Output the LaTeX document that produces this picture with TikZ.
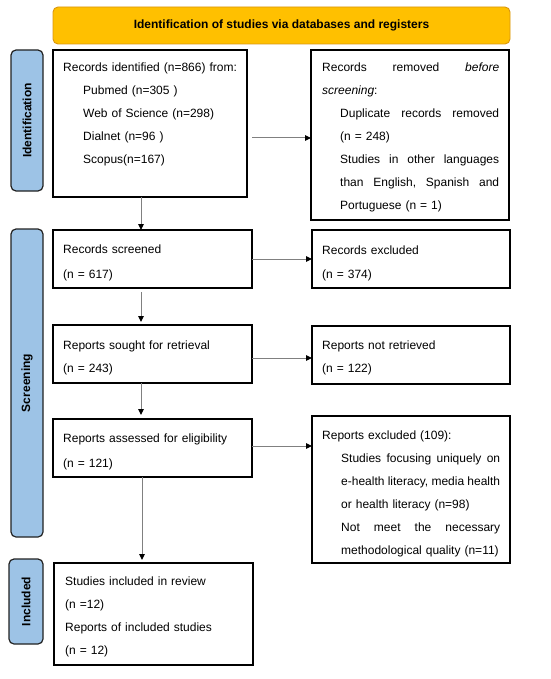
\documentclass[tikz,border=0pt]{standalone}
\usepackage{fontspec}
\setmainfont{Liberation Sans}
\usetikzlibrary{arrows.meta,calc}
\definecolor{hdrfill}{HTML}{FFC000}
\definecolor{hdrdraw}{HTML}{D9960F}
\definecolor{barfill}{HTML}{9DC3E6}
\definecolor{bardraw}{HTML}{222222}
\definecolor{arrgray}{HTML}{808080}
\newcommand{\jl}[2]{\hbox to #1{#2}}
\tikzset{
  box/.style={draw=black, line width=1.1pt, fill=white, anchor=north west, inner sep=0pt, outer sep=0pt},
  hdrbox/.style={draw=hdrdraw, fill=hdrfill, line width=0.9pt, rounded corners=5pt, anchor=north west, inner sep=0pt, outer sep=0pt},
  sidebar/.style={draw=bardraw, fill=barfill, line width=1.2pt, rounded corners=5pt, anchor=north west, inner sep=0pt, outer sep=0pt},
  txt/.style={anchor=base west, inner sep=0pt, align=left, font=\fontsize{12}{23}\selectfont},
  sidelabel/.style={rotate=90, font=\fontsize{12}{14}\selectfont\bfseries, inner sep=0pt},
  arr/.style={draw=arrgray, line width=1pt, -{Triangle[length=6pt,width=5.5pt,color=black]}},
}
\begin{document}
\begin{tikzpicture}[x=1pt,y=-1pt]
\useasboundingbox (0,0) rectangle (550,679);
\fill[white] (0,0) rectangle (550,679);

% header
\node[hdrbox, minimum width=457, minimum height=37] (hdr) at (53,7) {};
\node[font=\fontsize{12}{14}\selectfont\bfseries, inner sep=0pt] (hdrT) at (hdr.center) {Identification of studies via databases and registers};

% side bars
\node[sidebar, minimum width=32, minimum height=141] (sbid) at (11,50) {};
\node[sidelabel] (sbidT) at (sbid.center) {Identification};
\node[sidebar, minimum width=32, minimum height=308] (sbscr) at (11,229) {};
\node[sidelabel] (sbscrT) at (sbscr.center) {Screening};
\node[sidebar, minimum width=34, minimum height=85] (sbinc) at (9,559) {};
\node[sidelabel] (sbincT) at (sbinc.center) {Included};

% boxes
\node[box, minimum width=194, minimum height=147] (id) at (53,50) {};
\node[txt, text width=180] (idT) at (63,72) {Records identified (n=866) from:\\
\hspace*{20pt}Pubmed (n=305 )\\
\hspace*{20pt}Web of Science (n=298)\\
\hspace*{20pt}Dialnet (n=96 )\\
\hspace*{20pt}Scopus(n=167)};

\node[box, minimum width=198, minimum height=170] (rem) at (311,50) {};
\node[txt, text width=185] (remT) at (322,72) {\jl{177pt}{Records\hfill removed\hfill \textit{before}}\\
\textit{screening}:\\
\hspace*{18pt}\jl{159pt}{Duplicate\hfill records\hfill removed}\\
\hspace*{18pt}(n = 248)\\
\hspace*{18pt}\jl{159pt}{Studies\hfill in\hfill other\hfill languages}\\
\hspace*{18pt}\jl{159pt}{than\hfill English,\hfill Spanish\hfill and}\\
\hspace*{18pt}Portuguese (n = 1)};

\node[box, minimum width=199, minimum height=58] (scr) at (53,230) {};
\node[txt, text width=180, font=\fontsize{12}{25}\selectfont] (scrT) at (63,253) {Records screened\\(n = 617)};

\node[box, minimum width=198, minimum height=58] (exc) at (312,230) {};
\node[txt, text width=180, font=\fontsize{12}{24}\selectfont] (excT) at (322,254) {Records excluded\\(n = 374)};

\node[box, minimum width=199, minimum height=58] (sought) at (53,325) {};
\node[txt, text width=180] (soughtT) at (63,349) {Reports sought for retrieval\\(n = 243)};

\node[box, minimum width=198, minimum height=58] (notret) at (312,326) {};
\node[txt, text width=180] (notretT) at (322,349) {Reports not retrieved\\(n = 122)};

\node[box, minimum width=199, minimum height=58] (assess) at (53,419) {};
\node[txt, text width=180, font=\fontsize{12}{25}\selectfont] (assessT) at (63,442) {Reports assessed for eligibility\\(n = 121)};

\node[box, minimum width=198, minimum height=147] (repexc) at (312,416) {};
\node[txt, text width=185] (repexcT) at (322,439) {Reports excluded (109):\\
\hspace*{19pt}\jl{159pt}{Studies\hfill focusing\hfill uniquely\hfill on}\\
\hspace*{19pt}\jl{159pt}{e-health\hfill literacy,\hfill media\hfill health}\\
\hspace*{19pt}or health literacy (n=98)\\
\hspace*{19pt}\jl{159pt}{Not\hfill meet\hfill the\hfill necessary}\\
\hspace*{19pt}methodological quality (n=11)};

\node[box, minimum width=199, minimum height=102] (incl) at (54,563) {};
\node[txt, text width=180] (inclT) at (65,585) {Studies included in review\\(n =12)\\Reports of included studies\\(n = 12)};

% arrows
\draw[arr] ([xshift=5pt,yshift=-14.5pt]id.east) coordinate (a1) -- (a1 -| rem.west);
\draw[arr] (scr.east) coordinate (a2) -- (a2 -| exc.west);
\draw[arr] ([yshift=-4pt]sought.east) coordinate (a3) -- (a3 -| notret.west);
\draw[arr] ([yshift=2pt]assess.east) coordinate (a4) -- (a4 -| repexc.west);

\draw[arr] ([xshift=88pt]id.south west) coordinate (v1) -- (v1 |- scr.north);
\draw[arr] ([xshift=88pt,yshift=-4pt]scr.south west) coordinate (v2) -- ([yshift=3pt]v2 |- sought.north);
\draw[arr] ([xshift=88pt]sought.south west) coordinate (v3) -- ([yshift=4pt]v3 |- assess.north);
\draw[arr] ([xshift=89pt]assess.south west) coordinate (v4) -- ([yshift=3pt]v4 |- incl.north);
\end{tikzpicture}
\end{document}
